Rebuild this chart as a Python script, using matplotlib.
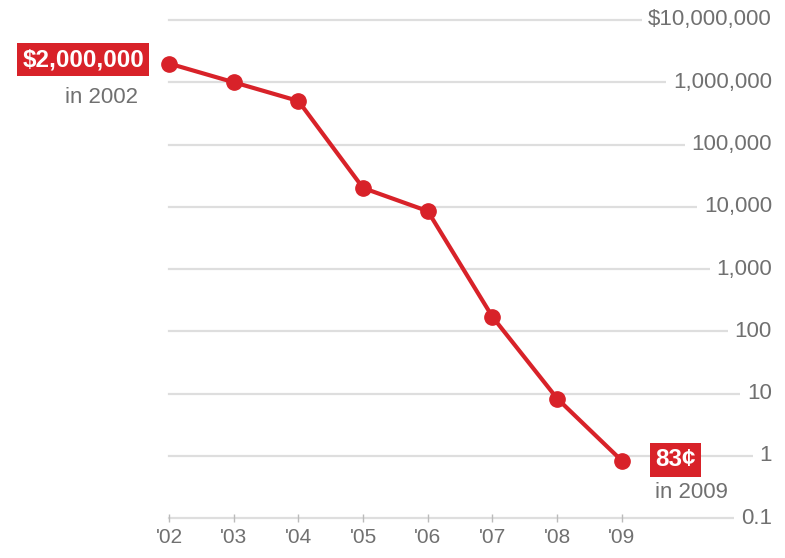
import numpy as np
import matplotlib.pyplot as plt
import matplotlib.transforms as mtransforms

plt.rcParams['font.family'] = ['Liberation Sans', 'DejaVu Sans']

years = [2002, 2003, 2004, 2005, 2006, 2007, 2008, 2009]
year_labels = ["'02", "'03", "'04", "'05", "'06", "'07", "'08", "'09"]
values = [2000000, 1000000, 500000, 20000, 8500, 170, 8.3, 0.83]

grid_values = [1e7, 1e6, 1e5, 1e4, 1e3, 100, 10, 1, 0.1]
grid_labels = ['$10,000,000', '1,000,000', '100,000', '10,000', '1,000',
               '100', '10', '1', '0.1']

red = '#d82229'
grey_text = '#707070'
grid_color = '#dedede'

fig = plt.figure(figsize=(7.85, 5.58), dpi=100)
ax = fig.add_axes([169 / 785, 1 - 518 / 558, (772 - 169) / 785, (518 - 20) / 558])
ax.set_yscale('log')
ax.set_ylim(0.1, 1e7)
ax.set_xlim(2002, 2002 + (772 - 169) / 64.7)

for s in ax.spines.values():
    s.set_visible(False)

trans = mtransforms.blended_transform_factory(ax.transAxes, ax.transData)
for v, lab in zip(grid_values, grid_labels):
    ax.axhline(v, color=grid_color, lw=1.6, zorder=1, clip_on=False)
    ax.text(1.0, v, lab, transform=trans, ha='right', va='center',
            fontsize=16, color=grey_text, zorder=2,
            bbox=dict(boxstyle='square,pad=0.3', fc='white', ec='none'))

ax.set_yticks([])
ax.minorticks_off()
ax.set_yticks([], minor=True)
ax.set_xticks(years)
ax.set_xticklabels(year_labels, fontsize=15, color=grey_text)
ax.tick_params(axis='x', direction='inout', length=6, width=1,
               color='#bbbbbb', pad=4)

ax.plot(years, values, color=red, lw=3, marker='o', markersize=11,
        zorder=3, clip_on=False)

ax.annotate('$2,000,000', xy=(years[0], values[0]), xytext=(-25, 4),
            textcoords='offset pixels', ha='right', va='center',
            fontsize=17.5, fontweight='bold', color='white',
            bbox=dict(boxstyle='square,pad=0.22', fc=red, ec='none'),
            annotation_clip=False)
ax.annotate('in 2002', xy=(years[0], values[0]), xytext=(-31, -34),
            textcoords='offset pixels', ha='right', va='center',
            fontsize=16, color=grey_text, annotation_clip=False)

ax.annotate('83¢', xy=(years[-1], values[-1]), xytext=(33, 1),
            textcoords='offset pixels', ha='left', va='center',
            fontsize=17.5, fontweight='bold', color='white',
            bbox=dict(boxstyle='square,pad=0.22', fc=red, ec='none'),
            annotation_clip=False)
ax.annotate('in 2009', xy=(years[-1], values[-1]), xytext=(33, -32),
            textcoords='offset pixels', ha='left', va='center',
            fontsize=16, color=grey_text, annotation_clip=False)

fig.savefig('out.png', dpi=100, facecolor='white')
